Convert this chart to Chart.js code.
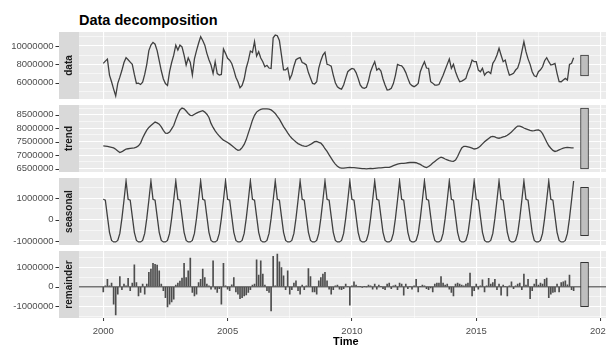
<!DOCTYPE html>
<html>
<head>
<meta charset="utf-8">
<script src="https://cdn.jsdelivr.net/npm/chart.js@4.4.0/dist/chart.umd.min.js"></script>
<style>
  html, body { margin: 0; padding: 0; background: #fff; overflow: hidden; }
  #wrap { position: relative; width: 606px; height: 347px; overflow: hidden; }
  #wrap canvas { position: absolute; left: 0; }
  #title { position: absolute; left: 79px; top: 12px; line-height: 15px;
           font: bold 14.5px "Liberation Sans", Arial, sans-serif; color: #000; white-space: nowrap; }
</style>
</head>
<body>
<div id="wrap">
  <div id="title">Data decomposition</div>
  <canvas id="cData" width="620" height="67" style="top:32px"></canvas>
  <canvas id="cTrend" width="620" height="67" style="top:105px"></canvas>
  <canvas id="cSeasonal" width="620" height="67" style="top:178px"></canvas>
  <canvas id="cRemainder" width="620" height="100" style="top:251px"></canvas>
</div>
<script>
// monthly series, Jan 2000 - Dec 2018, values in thousands
const startYear = 2000;

const observedK = [
  8110, 8350, 8580, 6830, 6100, 5300, 4550, 5920, 6600, 7350, 8200, 8730,
  8500, 8250, 8000, 6900, 5920, 5950, 5800, 6050, 6900, 8000, 9500, 10100,
  10400, 10200, 9500, 8400, 7300, 6400, 5900, 5700, 7200, 8200, 9000, 10100,
  9570, 10100, 9900, 9000, 7930, 8700, 8200, 6830, 8600, 9500, 10300, 11020,
  10600, 10100, 9200, 8500, 7930, 7020, 8290, 7000, 6830, 6900, 9680, 9200,
  8660, 8450, 8100, 7400, 6600, 6110, 5450, 5700, 6400, 7600, 8400, 9460,
  9300, 10480, 8900, 9380, 8700, 8290, 7740, 7900, 7600, 7560, 10900, 11200,
  11130, 10600, 9000, 7400, 7400, 7630, 6400, 6900, 7800, 8500, 8650, 8730,
  8200, 8100, 7930, 7100, 6500, 5920, 5850, 6100, 7600, 8400, 9020, 9310,
  8000, 7930, 7800, 6830, 6000, 5560, 5380, 5300, 5740, 6500, 7200, 7400,
  7560, 7490, 7100, 6470, 5750, 5450, 5380, 5500, 6200, 7200, 7800, 8290,
  7380, 7560, 7270, 6400, 5740, 5200, 5250, 5380, 5900, 6800, 8000, 7900,
  7850, 7560, 7100, 6470, 5900, 5670, 5560, 5700, 5920, 7200, 7800, 8290,
  7600, 7560, 6110, 5950, 5740, 5740, 5800, 6290, 6800, 7400, 8000, 8580,
  7560, 8000, 7200, 6600, 6110, 6180, 6300, 6470, 7200, 7740, 8470, 8290,
  8290, 7380, 7200, 7560, 6830, 7100, 7200, 7000, 8110, 8470, 9020, 9750,
  9000, 8290, 8470, 7560, 6830, 6900, 7020, 7380, 7600, 8290, 9380, 10480,
  9380, 8600, 8000, 7200, 6750, 6650, 7200, 7400, 7740, 8400, 8730, 8290,
  7930, 8000, 8110, 7020, 6110, 6100, 6300, 6470, 6290, 8000, 8110, 8730
];

const trendK = [
  7350, 7340, 7330, 7310, 7290, 7270, 7220, 7160, 7100, 7130, 7180, 7230,
  7240, 7250, 7260, 7270, 7300, 7350, 7450, 7640, 7790, 7930, 8030, 8100,
  8170, 8230, 8200, 8150, 8050, 7920, 7820, 7810, 7860, 7980, 8100, 8320,
  8520, 8680, 8750, 8720, 8640, 8550, 8480, 8470, 8520, 8560, 8600, 8630,
  8650, 8600, 8520, 8400, 8180, 8030, 7900, 7800, 7710, 7630, 7560, 7520,
  7470, 7420, 7360, 7300, 7230, 7180, 7200, 7280, 7400, 7580, 7820, 8050,
  8300, 8480, 8600, 8660, 8700, 8720, 8720, 8720, 8710, 8680, 8620, 8550,
  8440, 8340, 8200, 8060, 7950, 7830, 7720, 7630, 7560, 7490, 7430, 7390,
  7360, 7340, 7330, 7360, 7400, 7450, 7500, 7510, 7480, 7450, 7360, 7240,
  7140, 7010, 6890, 6770, 6670, 6590, 6540, 6520, 6520, 6530, 6540, 6550,
  6540, 6540, 6530, 6520, 6510, 6500, 6500, 6490, 6500, 6510, 6500, 6510,
  6520, 6530, 6530, 6540, 6550, 6550, 6550, 6580, 6610, 6640, 6670, 6690,
  6700, 6700, 6710, 6720, 6730, 6730, 6730, 6720, 6690, 6660, 6610, 6570,
  6540, 6580, 6640, 6710, 6770, 6830, 6890, 6930, 6900, 6860, 6830, 6800,
  6780, 6770, 6820, 6950, 7120, 7270, 7330, 7330, 7310, 7290, 7260, 7230,
  7240, 7280, 7340, 7420, 7500, 7560, 7620, 7680, 7700, 7680, 7640, 7630,
  7650, 7680, 7700, 7740, 7800, 7860, 7940, 8020, 8080, 8080, 8050, 8010,
  7980, 7950, 7920, 7900, 7910, 7930, 7940, 7900, 7800, 7650, 7490, 7350,
  7260, 7180, 7140, 7160, 7200, 7230, 7260, 7280, 7290, 7280, 7270, 7270
];

const seasonalK = [
  950, 900, 150, -600, -980, -1050, -1050, -980, -650, 50, 900, 1800,
  950, 900, 150, -600, -980, -1050, -1050, -980, -650, 50, 900, 1800,
  950, 900, 150, -600, -980, -1050, -1050, -980, -650, 50, 900, 1800,
  950, 900, 150, -600, -980, -1050, -1050, -980, -650, 50, 900, 1800,
  950, 900, 150, -600, -980, -1050, -1050, -980, -650, 50, 900, 1800,
  950, 900, 150, -600, -980, -1050, -1050, -980, -650, 50, 900, 1800,
  950, 900, 150, -600, -980, -1050, -1050, -980, -650, 50, 900, 1800,
  950, 900, 150, -600, -980, -1050, -1050, -980, -650, 50, 900, 1800,
  950, 900, 150, -600, -980, -1050, -1050, -980, -650, 50, 900, 1800,
  950, 900, 150, -600, -980, -1050, -1050, -980, -650, 50, 900, 1800,
  950, 900, 150, -600, -980, -1050, -1050, -980, -650, 50, 900, 1800,
  950, 900, 150, -600, -980, -1050, -1050, -980, -650, 50, 900, 1800,
  950, 900, 150, -600, -980, -1050, -1050, -980, -650, 50, 900, 1800,
  950, 900, 150, -600, -980, -1050, -1050, -980, -650, 50, 900, 1800,
  950, 900, 150, -600, -980, -1050, -1050, -980, -650, 50, 900, 1800,
  950, 900, 150, -600, -980, -1050, -1050, -980, -650, 50, 900, 1800,
  950, 900, 150, -600, -980, -1050, -1050, -980, -650, 50, 900, 1800,
  950, 900, 150, -600, -980, -1050, -1050, -980, -650, 50, 900, 1800,
  950, 900, 150, -600, -980, -1050, -1050, -980, -650, 50, 900, 1800
];

const remainderK = [
  -260, 50, 390, 50, 190, -890, -1440, -380, 530, -150, 140, 50,
  430, -200, 190, 1130, 220, -460, -290, 140, -380, 140, 740, 910,
  1210, 1150, 1110, 820, 140, -200, -550, -1030, -890, -770, -630, 90,
  190, 300, 450, 1210, 480, 820, 1470, -290, -460, -380, 220, 390,
  910, 480, 140, 50, -120, 1330, -120, -290, -100, -890, 1210, 50,
  -120, -200, 100, 480, -260, -380, -600, -550, -460, -420, -290, -150,
  90, 140, 1380, 600, 1330, 650, 90, -200, -290, -1230, 1560, 50,
  1680, 1280, 990, 560, -150, 820, -380, -150, 190, 310, -200, -380,
  90, -150, 50, 940, 530, -260, -260, -380, 310, 480, 650, 740,
  310, -120, -380, -150, 50, 90, -120, -150, -100, 140, 30, -940,
  50, 260, 90, 30, 20, -30, 20, 0, 90, 50, -120, 140,
  -120, 90, 20, -90, -150, 140, 190, -90, 50, 90, -150, 190,
  140, -430, 140, -90, 30, -120, 50, 390, -260, 20, 90, 50,
  -90, -150, -50, -260, 140, 190, 190, 530, 190, 90, 140, -120,
  -290, -460, 140, 190, 140, 90, 50, 140, 190, 700, -460, -200,
  140, -120, 50, 360, -260, 50, 430, 140, 220, 390, -150, 140,
  -430, 90, 30, -460, 50, 260, -90, 50, 140, 190, -150, 650,
  90, 390, -600, -200, 140, 390, 90, 190, 140, 390, 450, -550,
  -380, -290, -260, 140, -260, 220, 260, 310, 100, 600, -150, -200
];

// x range of the panels and position of the range bars on the right
const xMin = 1999.024;
const xMax = 2020.488;
const rangeBarX = 2019.355;

const FONT = '"Liberation Sans", Arial, sans-serif';
Chart.defaults.font.family = FONT;

function toPoints(valuesK) {
  return valuesK.map((v, i) => ({ x: startYear + i / 12, y: v * 1000 }));
}

function isMajor(v, step) {
  const r = v / step;
  return Math.abs(r - Math.round(r)) < 1e-6;
}

// ticks at every multiple of step inside the scale (major + minor grid)
function stepTicks(scale, step) {
  const ticks = [];
  for (let k = Math.ceil(scale.min / step); k * step <= scale.max; k++) {
    ticks.push({ value: k * step });
  }
  scale.ticks = ticks;
}

function paddedRange(valuesK) {
  const lo = Math.min(...valuesK) * 1000, hi = Math.max(...valuesK) * 1000;
  const pad = (hi - lo) * 0.05;
  return { min: lo - pad, max: hi + pad, mid: (lo + hi) / 2 };
}

// every range bar has the length of the smallest component range (trend)
const barHalf = (Math.max(...trendK) - Math.min(...trendK)) * 1000 / 2;

const panelDecor = {
  id: 'panelDecor',
  beforeDraw(chart) {
    const a = chart.chartArea, ctx = chart.ctx;
    ctx.save();
    ctx.fillStyle = '#ebebeb';
    ctx.fillRect(a.left, a.top, a.right - a.left, a.bottom - a.top);
    ctx.restore();
  },
  beforeDatasetsDraw(chart, args, opts) {
    if (!opts.zeroLine) return;
    const a = chart.chartArea, ctx = chart.ctx;
    const py = chart.scales.y.getPixelForValue(0);
    ctx.save();
    ctx.strokeStyle = '#333';
    ctx.lineWidth = 1;
    ctx.beginPath();
    ctx.moveTo(a.left, py);
    ctx.lineTo(a.right, py);
    ctx.stroke();
    ctx.restore();
  },
  afterDraw(chart, args, opts) {
    const a = chart.chartArea, ctx = chart.ctx, y = chart.scales.y;
    ctx.save();
    ctx.fillStyle = '#d9d9d9';
    ctx.fillRect(59, a.top, 20, a.bottom - a.top);
    ctx.translate(69, (a.top + a.bottom) / 2);
    ctx.rotate(-Math.PI / 2);
    ctx.fillStyle = '#1a1a1a';
    ctx.font = 'bold 10px ' + FONT;
    ctx.textAlign = 'center';
    ctx.textBaseline = 'middle';
    ctx.fillText(opts.label, 0, 0);
    ctx.restore();

    ctx.save();
    ctx.strokeStyle = '#333';
    ctx.lineWidth = 1;
    y.ticks.forEach(t => {
      if (!isMajor(t.value, opts.major)) return;
      const py = Math.round(y.getPixelForValue(t.value)) + 0.5;
      ctx.beginPath();
      ctx.moveTo(55.5, py);
      ctx.lineTo(59, py);
      ctx.stroke();
    });
    ctx.restore();
  }
};

function makePanel(id, cfg) {
  const range = paddedRange(cfg.values);
  const datasets = [];
  if (cfg.asBars) {
    datasets.push({
      type: 'bar', data: toPoints(cfg.values), grouped: false,
      barThickness: 1, backgroundColor: '#4d4d4d', borderWidth: 0
    });
  } else {
    datasets.push({
      type: 'line', data: toPoints(cfg.values), borderColor: '#404040',
      borderWidth: 1.3, pointRadius: 0, tension: 0, fill: false
    });
  }
  datasets.push({
    type: 'bar', grouped: false, barThickness: 8,
    data: [{ x: rangeBarX, y: [range.mid - barHalf, range.mid + barHalf] }],
    backgroundColor: '#bebebe', borderColor: '#333', borderWidth: 1, borderSkipped: false
  });

  const bottom = !!cfg.bottom;
  return new Chart(document.getElementById(id), {
    type: 'line',
    data: { datasets },
    options: {
      responsive: false,
      animation: false,
      events: [],
      layout: { padding: { left: 0, right: 7.3, top: 0, bottom: 0 } },
      plugins: {
        legend: { display: false },
        tooltip: { enabled: false },
        panelDecor: { label: cfg.label, major: cfg.major, zeroLine: !!cfg.zeroLine }
      },
      scales: {
        x: {
          type: 'linear', min: xMin, max: xMax, offset: false,
          afterBuildTicks: s => stepTicks(s, 2.5),
          afterFit: s => { s.height = bottom ? 33 : 0; s.paddingLeft = 0; s.paddingRight = 0; },
          border: { display: false },
          grid: {
            offset: false,
            color: '#ffffff',
            lineWidth: c => isMajor(c.tick.value, 5) ? 1.1 : 0.55,
            drawTicks: bottom,
            tickLength: 3,
            tickWidth: 1,
            tickColor: c => isMajor(c.tick.value, 5) ? '#333' : 'rgba(0,0,0,0)'
          },
          ticks: {
            display: bottom, autoSkip: false,
            maxRotation: 0, padding: 5, color: '#4d4d4d', font: { size: 9.5 },
            callback: v => isMajor(v, 5) ? String(Math.round(v)) : ''
          },
          title: {
            display: bottom, text: 'Time', color: '#000',
            font: { size: 11, weight: 'bold' }, padding: { top: 0, bottom: 2 }
          }
        },
        y: {
          type: 'linear', min: range.min, max: range.max,
          afterBuildTicks: s => stepTicks(s, cfg.major / 2),
          afterFit: s => { s.width = 79; s.paddingTop = 0; s.paddingBottom = 0; },
          border: { display: false },
          grid: {
            color: '#ffffff',
            lineWidth: c => isMajor(c.tick.value, cfg.major) ? 1.1 : 0.55,
            drawTicks: false
          },
          ticks: {
            autoSkip: false,
            padding: 25.5, color: '#4d4d4d', font: { size: 9.5 },
            callback: v => isMajor(v, cfg.major) ? String(Math.round(v)) : ''
          }
        }
      }
    },
    plugins: [panelDecor]
  });
}

makePanel('cData', { values: observedK, label: 'data', major: 2000000 });
makePanel('cTrend', { values: trendK, label: 'trend', major: 500000 });
makePanel('cSeasonal', { values: seasonalK, label: 'seasonal', major: 1000000 });
makePanel('cRemainder', { values: remainderK, label: 'remainder', major: 1000000,
  asBars: true, zeroLine: true, bottom: true });
</script>
</body>
</html>
